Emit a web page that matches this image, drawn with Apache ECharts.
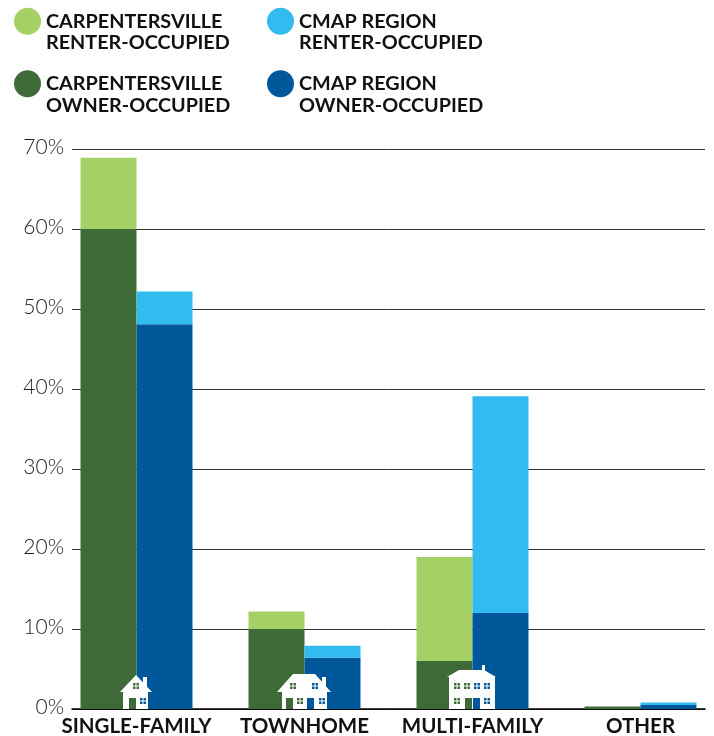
<!DOCTYPE html>
<html>
<head>
<meta charset="utf-8">
<style>
  html, body { margin: 0; padding: 0; background: #fff; }
  #chart { width: 714px; height: 736px; }
</style>
<script src="https://cdn.jsdelivr.net/npm/echarts@6/dist/echarts.min.js"></script>
</head>
<body>
<div id="chart"></div>
<script>
const categories = ['SINGLE-FAMILY', 'TOWNHOME', 'MULTI-FAMILY', 'OTHER'];
const carpOwner = [60, 10, 6, 0.3];
const carpRenter = [8.9, 2.2, 13, 0];
const cmapOwner = [48.1, 6.4, 12, 0.5];
const cmapRenter = [4.1, 1.5, 27.1, 0.3];

const GREEN_L = '#a5d066', GREEN_D = '#3e6a38', BLUE_L = '#32bbee', BLUE_D = '#00589b';
const FONT = 'Lato, "Open Sans", sans-serif';

// house icons: outline + doors/windows, px offsets from the category centre on the baseline
const houses = [
  { // single-family
    outline: [[0,-34],[16,-17],[12,-17],[12,0],[-13,0],[-13,-17],[-16,-17]],
    chimney: [7,-32,4,10],
    doors: [[-7,-11,7,11,GREEN_D]],
    windows: [[-3,-26,6,6,GREEN_D],[4,-11,6,6,BLUE_D]]
  },
  { // townhome
    outline: [[-11,-35],[11,-35],[27,-17],[23,-17],[23,0],[-22,0],[-22,-17],[-27,-17]],
    chimney: [18,-32,4,10],
    doors: [[-18,-11,7,11,GREEN_D],[3,-11,7,11,BLUE_D]],
    windows: [[-14,-26,6,6,GREEN_D],[8,-26,6,6,BLUE_D],[-7,-11,6,6,GREEN_D],[15,-11,6,6,BLUE_D]]
  },
  { // multi-family
    outline: [[-13,-39],[12,-39],[24,-32],[23,-32],[23,0],[-23,0],[-23,-32],[-25,-32]],
    chimney: [10,-44,3,8],
    doors: [[-7,-11,7,11,GREEN_D],[1,-11,7,11,BLUE_D]],
    windows: [[-18,-26,6,6,GREEN_D],[-8,-26,6,6,GREEN_D],[2,-26,6,6,BLUE_D],[12,-26,6,6,BLUE_D],
              [-18,-11,6,6,GREEN_D],[12,-11,6,6,BLUE_D]]
  }
];

function renderHouse(params, api) {
  const h = houses[params.dataIndex];
  const base = api.coord([api.value(0), 0]);
  const cx = Math.floor(base[0]), by = Math.round(base[1]);
  const box = (b, fill) => ({ type: 'rect', shape: { x: cx + b[0], y: by + b[1], width: b[2], height: b[3] }, style: { fill: fill } });
  const kids = [
    box(h.chimney, '#fff'),
    { type: 'polygon', shape: { points: h.outline.map(p => [cx + p[0], by + p[1]]) }, style: { fill: '#fff' } }
  ];
  h.doors.forEach(d => kids.push(box(d, d[4])));
  h.windows.forEach(w => {
    kids.push(box(w, w[4]));
    kids.push(box([w[0] + 2.5, w[1], 1, 6], '#fff'));
    kids.push(box([w[0], w[1] + 2.5, 6, 1], '#fff'));
  });
  return { type: 'group', children: kids };
}

function barSeries(name, stack, data, color) {
  return {
    name: name, type: 'bar', stack: stack, data: data,
    xAxisIndex: 1, yAxisIndex: 1,
    barWidth: 56, barGap: 0,
    itemStyle: { color: color }
  };
}

// leading blank line keeps the circle level with the first text line
function legendBlock(left, names) {
  return {
    left: left, top: -11, orient: 'vertical', padding: 0,
    data: names.map(n => ({ name: n, icon: 'circle' })),
    formatter: n => '\n' + n,
    itemWidth: 27, itemHeight: 27, itemGap: -2,
    selectedMode: false,
    textStyle: { fontFamily: FONT, fontWeight: 700, fontSize: 19.8, lineHeight: 21.5, color: '#111' }
  };
}

const nameCR = 'CARPENTERSVILLE\nRENTER-OCCUPIED';
const nameCO = 'CARPENTERSVILLE\nOWNER-OCCUPIED';
const nameMR = 'CMAP REGION\nRENTER-OCCUPIED';
const nameMO = 'CMAP REGION\nOWNER-OCCUPIED';

const chart = echarts.init(document.getElementById('chart'), null, { renderer: 'canvas' });
chart.setOption({
  animation: false,
  backgroundColor: '#fff',
  legend: [legendBlock(14, [nameCR, nameCO]), legendBlock(267, [nameMR, nameMO])],
  // first grid carries the rules and % ticks, second (wider) one the bars
  grid: [
    { left: 72, top: 149, width: 633, height: 560, outerBoundsMode: 'none' },
    { left: 52.5, top: 149, width: 672, height: 560, outerBoundsMode: 'none' }
  ],
  xAxis: [
    { type: 'category', gridIndex: 0, data: categories, axisLabel: { show: false }, axisTick: { show: false },
      axisLine: { lineStyle: { color: '#000', width: 1.5 } } },
    { type: 'category', gridIndex: 1, data: categories, axisTick: { show: false }, axisLine: { show: false },
      axisLabel: { color: '#111', fontFamily: FONT, fontWeight: 700, fontSize: 20.5, margin: 7, interval: 0 } }
  ],
  yAxis: [
    { type: 'value', gridIndex: 0, min: 0, max: 70, interval: 10, axisLine: { show: false }, axisTick: { show: false },
      axisLabel: {
        formatter: v => '{v|' + v + '%}', margin: 8,
        rich: { v: { color: '#1c1c1c', fontFamily: FONT, fontWeight: 300, fontSize: 21, padding: [0, 0, 4, 0] } }
      },
      splitLine: { lineStyle: { color: '#333', width: 1 } } },
    { type: 'value', gridIndex: 1, min: 0, max: 70, interval: 10, show: false, splitLine: { show: false } }
  ],
  series: [
    barSeries(nameCO, 'carp', carpOwner, GREEN_D),
    barSeries(nameCR, 'carp', carpRenter, GREEN_L),
    barSeries(nameMO, 'cmap', cmapOwner, BLUE_D),
    barSeries(nameMR, 'cmap', cmapRenter, BLUE_L),
    {
      type: 'custom', xAxisIndex: 1, yAxisIndex: 1, z: 5, silent: true,
      data: [[0], [1], [2]],
      encode: { x: 0 },
      renderItem: renderHouse
    }
  ]
});
</script>
</body>
</html>
